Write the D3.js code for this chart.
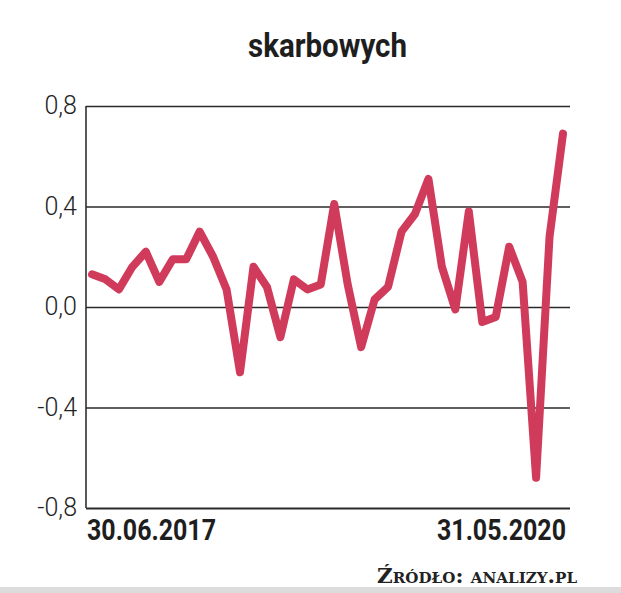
<!DOCTYPE html>
<html>
<head>
<meta charset="utf-8">
<script src="https://cdn.jsdelivr.net/npm/d3@7"></script>
<style>
  body { margin: 0; background: #fff; }
  svg { display: block; }
</style>
</head>
<body>
<div id="container_chart"></div>
<script>
// monthly values, 30.06.2017 .. 31.05.2020
const values = [0.13, 0.11, 0.07, 0.16, 0.22, 0.10, 0.19, 0.19, 0.30, 0.20,
  0.07, -0.26, 0.16, 0.08, -0.12, 0.11, 0.07, 0.09, 0.41, 0.09,
  -0.16, 0.03, 0.08, 0.30, 0.37, 0.51, 0.16, -0.01, 0.38, -0.06,
  -0.04, 0.24, 0.10, -0.68, 0.28, 0.69];
const yTicks = [0.8, 0.4, 0, -0.4, -0.8];
const dateLabels = ['30.06.2017', '31.05.2020'];
const title = 'skarbowych';
const source = 'Źródło: analizy.pl';

const width = 621, height = 593;
const margin = {left: 86, right: 51, top: 106, bottom: 85};
const condensed = 'Roboto, "Liberation Sans", sans-serif';

const svg = d3.select('#container_chart')
  .append('svg')
  .attr('id', 'svg_chart')
  .attr('width', width)
  .attr('height', height);

const x = d3.scaleLinear()
  .domain([0, values.length - 1])
  .range([92, 563]);

const y = d3.scaleLinear()
  .domain([-0.8, 0.8])
  .range([height - margin.bottom, margin.top]);

// title
svg.append('text')
  .attr('x', 248)
  .attr('y', 57)
  .attr('textLength', 159)
  .attr('lengthAdjust', 'spacingAndGlyphs')
  .style('font-family', condensed)
  .style('font-weight', 'bold')
  .style('font-size', '33px')
  .attr('fill', '#1e1e1e')
  .text(title);

// gridlines + y labels
const yAxis = d3.axisLeft(y)
  .tickValues(yTicks)
  .tickSize(-(width - margin.right - margin.left))
  .tickPadding(9)
  .tickFormat(d => d3.format('.1f')(d).replace('.', ',').replace('−', '-'));

const gy = svg.append('g')
  .attr('transform', `translate(${margin.left},0)`)
  .call(yAxis);

gy.select('.domain')
  .attr('stroke', '#222')
  .attr('stroke-width', 1.5)
  .attr('d', `M0,${y(0.8)}V${y(-0.8)}`);

gy.selectAll('.tick line')
  .attr('stroke', '#2a2a2a')
  .attr('stroke-width', 1.4);

gy.selectAll('.tick').filter(d => d === -0.8).select('line')
  .attr('stroke-width', 2);

gy.selectAll('.tick text')
  .attr('fill', '#222')
  .attr('dy', '0.3em')
  .style('font-family', condensed)
  .style('font-size', '25px')
  .style('font-weight', '300');

// series line
const line = d3.line()
  .x((d, i) => x(i))
  .y(d => y(d));

svg.append('path')
  .datum(values)
  .attr('d', line)
  .attr('fill', 'none')
  .attr('stroke', '#d13b5b')
  .attr('stroke-width', 8)
  .attr('stroke-linejoin', 'round')
  .attr('stroke-linecap', 'round');

// date labels
svg.selectAll('.date')
  .data(dateLabels)
  .enter()
  .append('text')
  .attr('class', 'date')
  .attr('x', (d, i) => i === 0 ? 87 : 437)
  .attr('y', 540)
  .attr('textLength', 129)
  .attr('lengthAdjust', 'spacingAndGlyphs')
  .style('font-family', condensed)
  .style('font-weight', 'bold')
  .style('font-size', '30px')
  .attr('fill', '#1e1e1e')
  .text(d => d);

// source
svg.append('text')
  .attr('x', 377)
  .attr('y', 583)
  .attr('textLength', 200)
  .attr('lengthAdjust', 'spacingAndGlyphs')
  .style('font-family', '"DejaVu Serif", serif')
  .style('font-variant', 'small-caps')
  .style('font-weight', 'bold')
  .style('font-size', '20px')
  .attr('fill', '#222')
  .text(source);

// bottom band
svg.append('rect')
  .attr('x', 0)
  .attr('y', 587)
  .attr('width', width)
  .attr('height', height - 587)
  .attr('fill', '#dcdcdc');
</script>
</body>
</html>
